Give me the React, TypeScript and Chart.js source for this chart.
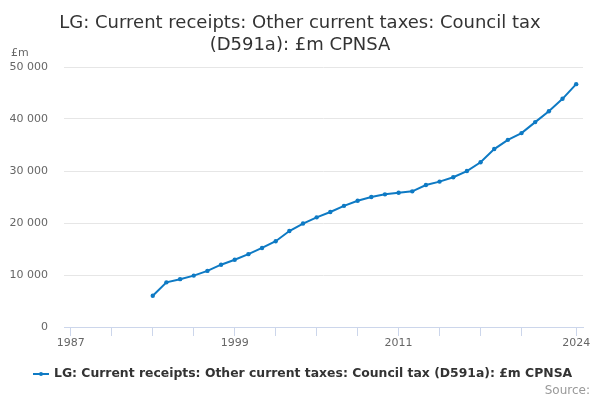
import React, { useEffect, useRef } from "react";
import { Chart, registerables } from "chart.js";

Chart.register(...registerables);

const years: string[] = [
  "1987", "1988", "1989", "1990", "1991", "1992", "1993", "1994", "1995", "1996",
  "1997", "1998", "1999", "2000", "2001", "2002", "2003", "2004", "2005", "2006",
  "2007", "2008", "2009", "2010", "2011", "2012", "2013", "2014", "2015", "2016",
  "2017", "2018", "2019", "2020", "2021", "2022", "2023", "2024",
];

const councilTax: (number | null)[] = [
  null, null, null, null, null, null,
  6010, 8590, 9200, 9880, 10790, 11980, 12930, 14010, 15200, 16490,
  18450, 19900, 21090, 22110, 23300, 24280, 25000, 25510, 25830, 26090,
  27300, 27960, 28800, 29990, 31670, 34220, 35990, 37290, 39400, 41500,
  43880, 46700,
];

const tickYears: string[] = [
  "1987", "1990", "1993", "1996", "1999", "2002", "2005", "2008", "2011",
  "2014", "2017", "2020", "2024",
];
const labelYears: string[] = ["1987", "1999", "2011", "2024"];
const yTicks: number[] = [0, 10000, 20000, 30000, 40000, 50000];

const titleLines: string[] = [
  "LG: Current receipts: Other current taxes: Council tax",
  "(D591a): £m CPNSA",
];
const seriesName = "LG: Current receipts: Other current taxes: Council tax (D591a): £m CPNSA";
const unitLabel = "£m";
const sourceLabel = "Source:";

const LINE_COLOR = "#0e7ac4";
const FONT = '"DejaVu Sans", sans-serif';

const fmt = (v: number) => String(v).replace(/\B(?=(\d{3})+(?!\d))/g, " ");

const textPlugin = {
  id: "textPlugin",
  afterDraw(chart: any) {
    const ctx = chart.ctx as CanvasRenderingContext2D;
    ctx.save();
    ctx.fillStyle = "#333333";
    ctx.font = `18px ${FONT}`;
    ctx.textAlign = "center";
    ctx.textBaseline = "middle";
    ctx.fillText(titleLines[0], 300, 23);
    ctx.fillText(titleLines[1], 300, 45);

    ctx.fillStyle = "#666666";
    ctx.font = `11px ${FONT}`;
    ctx.textAlign = "left";
    ctx.fillText(unitLabel, 11, 53);

    // legend
    ctx.strokeStyle = LINE_COLOR;
    ctx.lineWidth = 2;
    ctx.beginPath();
    ctx.moveTo(33, 374);
    ctx.lineTo(49, 374);
    ctx.stroke();
    ctx.fillStyle = LINE_COLOR;
    ctx.beginPath();
    ctx.arc(41, 374, 2, 0, Math.PI * 2);
    ctx.fill();
    ctx.fillStyle = "#333333";
    ctx.font = `bold 12.4px ${FONT}`;
    ctx.textAlign = "left";
    ctx.fillText(seriesName, 54, 374);

    ctx.fillStyle = "#999999";
    ctx.font = `12px ${FONT}`;
    ctx.textAlign = "right";
    ctx.fillText(sourceLabel, 590, 391);
    ctx.restore();
  },
};

export default function App() {
  const ref = useRef<HTMLCanvasElement | null>(null);

  useEffect(() => {
    document.body.style.margin = "0";
    if (!ref.current) return;
    const chart = new Chart(ref.current, {
      type: "line",
      data: {
        labels: years,
        datasets: [
          {
            label: seriesName,
            data: councilTax,
            borderColor: LINE_COLOR,
            backgroundColor: LINE_COLOR,
            borderWidth: 2,
            pointRadius: 2.2,
            pointBorderWidth: 0,
            pointBackgroundColor: LINE_COLOR,
            tension: 0,
            spanGaps: false,
          },
        ],
      },
      options: {
        responsive: false,
        animation: false,
        devicePixelRatio: 1,
        layout: { padding: { left: 0, right: 17, top: 67, bottom: 43 } },
        plugins: {
          legend: { display: false },
          title: { display: false },
          tooltip: { enabled: false },
        },
        scales: {
          x: {
            type: "category",
            offset: true,
            afterBuildTicks: (scale: any) => {
              scale.ticks = tickYears.map((y) => ({ value: years.indexOf(y) }));
            },
            afterFit: (scale: any) => {
              scale.height = 30;
            },
            grid: {
              drawOnChartArea: false,
              drawTicks: true,
              tickLength: 9,
              color: "#ccd6eb",
              offset: false,
            },
            border: { display: true, color: "#ccd6eb", width: 1 },
            ticks: {
              autoSkip: false,
              maxRotation: 0,
              minRotation: 0,
              padding: 1,
              color: "#666666",
              font: { family: FONT, size: 11 },
              callback: (value: any) => {
                const y = years[value as number];
                return labelYears.includes(y) ? y : "";
              },
            },
          },
          y: {
            min: 0,
            max: 50000,
            afterBuildTicks: (scale: any) => {
              scale.ticks = yTicks.map((v) => ({ value: v }));
            },
            afterFit: (scale: any) => {
              scale.width = 64;
            },
            grid: { color: "#e6e6e6", lineWidth: 1, drawTicks: false },
            border: { display: false },
            ticks: {
              padding: 16,
              color: "#666666",
              font: { family: FONT, size: 11 },
              callback: (value: any) => fmt(Number(value)),
            },
          },
        },
      },
      plugins: [textPlugin],
    });
    return () => chart.destroy();
  }, []);

  return (
    <div style={{ width: 600, height: 400, background: "#fff" }}>
      <canvas ref={ref} width={600} height={400} />
    </div>
  );
}
